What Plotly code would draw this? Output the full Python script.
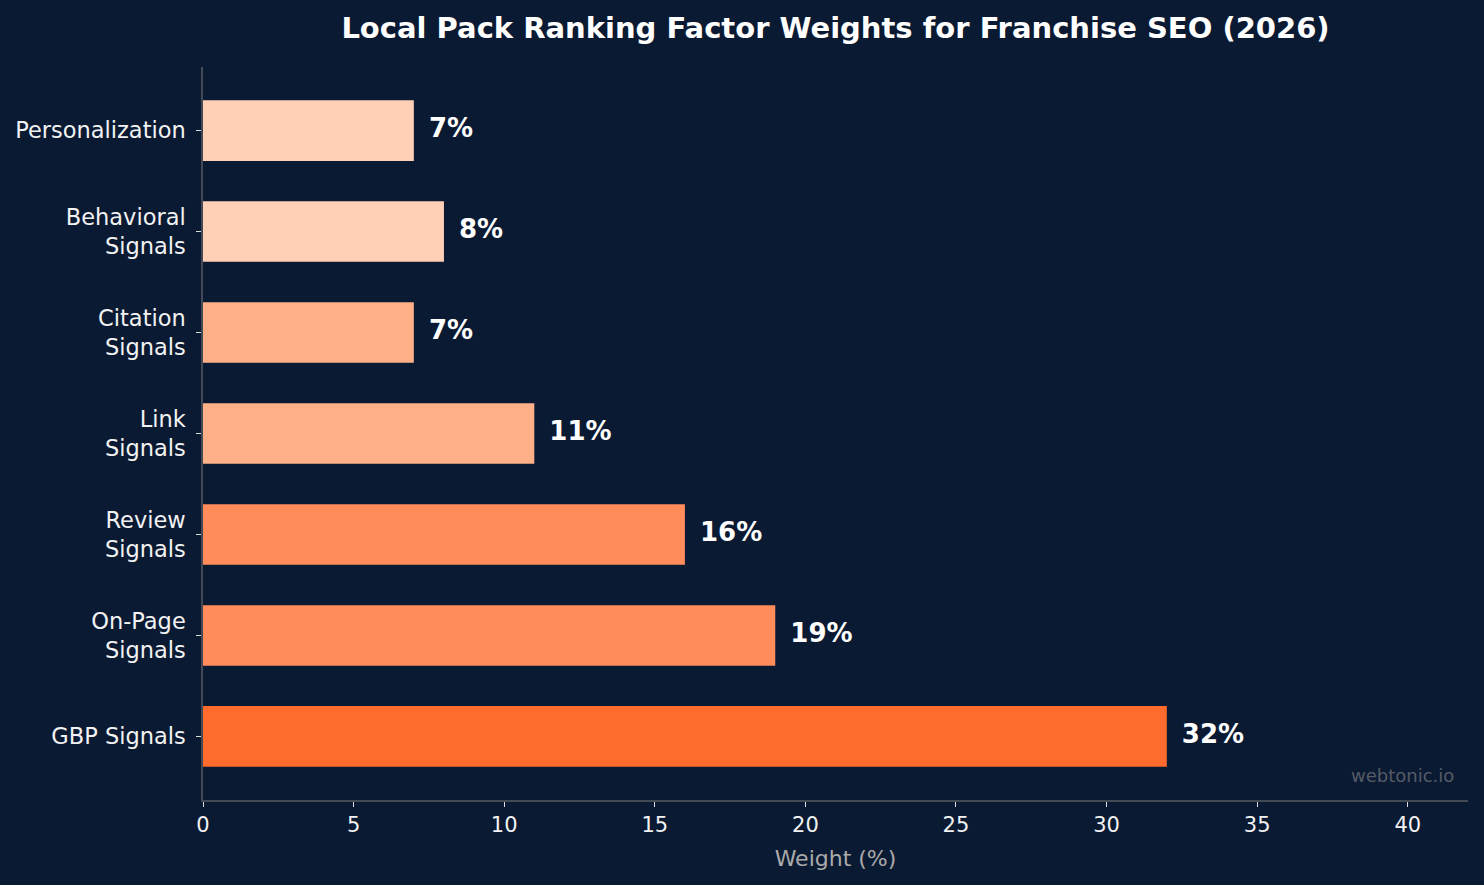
import plotly.graph_objects as go

categories = ["GBP Signals", "On-Page<br>Signals", "Review<br>Signals", "Link<br>Signals",
              "Citation<br>Signals", "Behavioral<br>Signals", "Personalization"]
weights = [32, 19, 16, 11, 7, 8, 7]
colors = ["#FF6B2C", "#FF8C5A", "#FF8C5A", "#FFB088", "#FFB088", "#FFD0B5", "#FFD0B5"]
labels = [f"{w}%" for w in weights]
x_ticks = [0, 5, 10, 15, 20, 25, 30, 35, 40]

BG = "#0B1A33"
FONT = "DejaVu Sans"

fig = go.Figure()
fig.add_trace(go.Bar(
    y=list(range(len(categories))), x=weights, orientation="h",
    marker=dict(color=colors, line=dict(width=0)), width=0.6,
    hoverinfo="skip", showlegend=False,
))
fig.add_trace(go.Scatter(
    y=list(range(len(categories))), x=[w + 0.5 for w in weights],
    mode="text", text=labels, textposition="middle right",
    textfont=dict(family=FONT, size=26, color="white", weight="bold"),
    showlegend=False, hoverinfo="skip", cliponaxis=False,
))

fig.update_layout(
    width=1484, height=885,
    paper_bgcolor=BG, plot_bgcolor=BG,
    margin=dict(l=203, r=16, t=67, b=85),
    font=dict(family=FONT, color="white"),
    title=dict(text="<b>Local Pack Ranking Factor Weights for Franchise SEO (2026)</b>",
               x=0.5, xref="paper", y=0.968, yref="container", yanchor="middle",
               font=dict(family=FONT, size=29, color="white")),
    xaxis=dict(range=[0, 42], tickvals=x_ticks, ticktext=[str(t) for t in x_ticks],
               showgrid=False, zeroline=False,
               showline=True, linecolor="#444A55", linewidth=1.5,
               ticks="outside", ticklen=5, tickcolor="#DDDDDD", tickwidth=1.2,
               tickfont=dict(family=FONT, size=21, color="#F2F2F2"),
               title=dict(text="Weight (%)", font=dict(family=FONT, size=22, color="#AAAAAA"), standoff=15)),
    yaxis=dict(range=[-0.63, 6.63], tickvals=list(range(len(categories))), ticktext=categories,
               showgrid=False, zeroline=False,
               showline=True, linecolor="#444A55", linewidth=1.5,
               ticks="outside", ticklen=5, tickcolor="#DDDDDD", tickwidth=1.2,
               ticklabelstandoff=6,
               tickfont=dict(family=FONT, size=22.5, color="#F2F2F2")),
    annotations=[dict(text="webtonic.io", xref="paper", yref="paper", x=0.9905, y=0.033,
                      xanchor="right", yanchor="middle", showarrow=False,
                      font=dict(family=FONT, size=18, color="#555B66"))],
)

fig.write_html("out.html")
